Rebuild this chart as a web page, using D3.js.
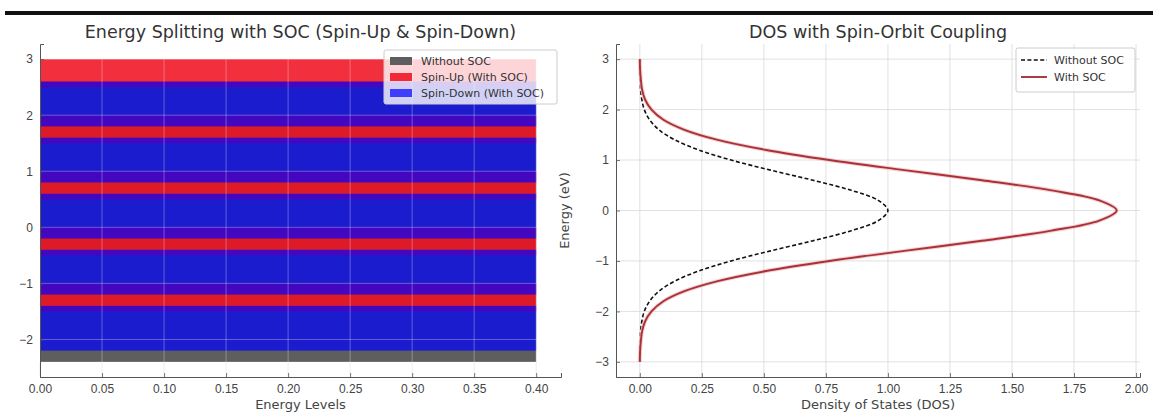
<!DOCTYPE html>
<html>
<head>
<meta charset="utf-8">
<script src="https://cdn.jsdelivr.net/npm/d3@7"></script>
<style>
  html, body { margin: 0; padding: 0; background: #fff; }
  svg { display: block; font-family: "DejaVu Sans", sans-serif; }
</style>
</head>
<body>
<svg id="fig" width="1153" height="412"></svg>
<script>
// ---- Energy splitting (left panel) ----
const levelsNoSOC = [-1.9, -0.9, 0.1, 1.1, 2.1];    // bar centres, eV
const levelsSpinUp = [-1.25, -0.25, 0.75, 1.75, 2.75];
const levelsSpinDown = [-1.8, -0.8, 0.2, 1.2, 2.2];
const heightNoSOC = 1.0, heightSpinUp = 0.5, heightSpinDown = 0.8;
const barLength = 0.4;
const splitXTicks = [0, 0.05, 0.10, 0.15, 0.20, 0.25, 0.30, 0.35, 0.40];
const splitYTicks = [-2, -1, 0, 1, 2, 3];

// ---- Density of states (right panel) ----
const energies = [-3.0, -2.8, -2.6, -2.4, -2.2, -2.0, -1.8, -1.6, -1.4, -1.2, -1.0,
                  -0.8, -0.6, -0.4, -0.2, 0.0, 0.2, 0.4, 0.6, 0.8, 1.0,
                  1.2, 1.4, 1.6, 1.8, 2.0, 2.2, 2.4, 2.6, 2.8, 3.0];
const dosNoSOC = [0.000, 0.000, 0.001, 0.003, 0.008, 0.018, 0.039, 0.077, 0.141, 0.237, 0.368,
                  0.527, 0.698, 0.852, 0.961, 1.000, 0.961, 0.852, 0.698, 0.527, 0.368,
                  0.237, 0.141, 0.077, 0.039, 0.018, 0.008, 0.003, 0.001, 0.000, 0.000];
const dosSOC = [0.000, 0.001, 0.004, 0.009, 0.021, 0.047, 0.095, 0.180, 0.314, 0.509, 0.764,
                1.066, 1.379, 1.659, 1.852, 1.922, 1.852, 1.659, 1.379, 1.066, 0.764,
                0.509, 0.314, 0.180, 0.095, 0.047, 0.021, 0.009, 0.004, 0.001, 0.000];
const dosXTicks = [0, 0.25, 0.5, 0.75, 1.0, 1.25, 1.5, 1.75, 2.0];
const dosYTicks = [-3, -2, -1, 0, 1, 2, 3];

const svg = d3.select("#fig");
const TICK_COLOR = "#555", LABEL_COLOR = "#444", GRID_COLOR = "#d9d9d9";
const TICK_FONT = 12, LABEL_FONT = 13, TITLE_FONT = 17.5, LEGEND_FONT = 11;

// frame rule across the top
svg.append("rect").attr("x", 5).attr("y", 11).attr("width", 1148).attr("height", 4).attr("fill", "#111");

function styleAxis(g) {
  g.select(".domain").attr("stroke", TICK_COLOR).attr("stroke-width", 1);
  g.selectAll(".tick line").attr("stroke", TICK_COLOR).attr("stroke-width", 0.8);
  g.selectAll(".tick text").attr("fill", LABEL_COLOR).attr("font-size", TICK_FONT);
}

// ================= left panel =================
const L = { x0: 40, x1: 561, y0: 44, y1: 377 };
const lx = d3.scaleLinear().domain([0, 0.42]).range([L.x0, L.x1]);
const ly = d3.scaleLinear().domain([-2.67, 3.27]).range([L.y1, L.y0]);
const left = svg.append("g");

function drawBars(centres, h, fill, opacity) {
  left.append("g").selectAll("rect").data(centres).join("rect")
    .attr("x", lx(0))
    .attr("width", lx(barLength) - lx(0))
    .attr("y", d => ly(d + h / 2))
    .attr("height", d => ly(d - h / 2) - ly(d + h / 2))
    .attr("fill", fill).attr("fill-opacity", opacity);
}
const colNoSOC = "#5e5e5e", colUp = "#f01020", colDown = "#0000ff";
const opNoSOC = 1.0, opUp = 0.87, opDown = 0.7;
drawBars(levelsNoSOC, heightNoSOC, colNoSOC, opNoSOC);
drawBars(levelsSpinUp, heightSpinUp, colUp, opUp);
drawBars(levelsSpinDown, heightSpinDown, colDown, opDown);

// grid lines sit above the bars
const lgrid = left.append("g").attr("stroke", "#ffffff").attr("stroke-opacity", 0.3).attr("stroke-width", 1);
lgrid.selectAll(".v").data(splitXTicks).join("line")
  .attr("x1", d => lx(d)).attr("x2", d => lx(d)).attr("y1", L.y0).attr("y2", L.y1);
lgrid.selectAll(".h").data(splitYTicks).join("line")
  .attr("x1", L.x0).attr("x2", L.x1).attr("y1", d => ly(d)).attr("y2", d => ly(d));
const lgrid2 = left.append("g").attr("stroke", GRID_COLOR).attr("stroke-width", 0.8).attr("stroke-opacity", 0.6);
lgrid2.selectAll("line").data(splitXTicks).join("line")
  .attr("x1", d => lx(d)).attr("x2", d => lx(d)).attr("y1", ly(-2.4)).attr("y2", L.y1);

left.append("g").attr("transform", `translate(0,${L.y1})`)
  .call(d3.axisBottom(lx).tickValues(splitXTicks).tickFormat(d3.format(".2f")).tickSize(-4).tickPadding(7))
  .call(styleAxis);
left.append("g").attr("transform", `translate(${L.x0},0)`)
  .call(d3.axisLeft(ly).tickValues(splitYTicks).tickFormat(d3.format("d")).tickSize(-4).tickPadding(7))
  .call(styleAxis);

left.append("text").attr("x", (L.x0 + L.x1) / 2).attr("y", 38).attr("text-anchor", "middle")
  .attr("font-size", TITLE_FONT).attr("fill", "#333")
  .text("Energy Splitting with SOC (Spin-Up & Spin-Down)");
left.append("text").attr("x", (L.x0 + L.x1) / 2).attr("y", 409).attr("text-anchor", "middle")
  .attr("font-size", LABEL_FONT).attr("fill", LABEL_COLOR).text("Energy Levels");

// legend
const lleg = left.append("g").attr("transform", "translate(384,50)");
lleg.append("rect").attr("width", 173).attr("height", 54).attr("rx", 2)
  .attr("fill", "#fff").attr("fill-opacity", 0.8).attr("stroke", "#cccccc");
const legItems = [
  { label: "Without SOC", fill: colNoSOC, op: opNoSOC },
  { label: "Spin-Up (With SOC)", fill: colUp, op: opUp },
  { label: "Spin-Down (With SOC)", fill: colDown, op: opDown }
];
legItems.forEach((d, i) => {
  const y = 11 + i * 16;
  lleg.append("rect").attr("x", 6).attr("y", y - 4).attr("width", 22).attr("height", 8)
    .attr("fill", d.fill).attr("fill-opacity", d.op);
  lleg.append("text").attr("x", 37).attr("y", y + 4).attr("font-size", LEGEND_FONT).attr("fill", "#333").text(d.label);
});

// ================= right panel =================
const R = { x0: 616, x1: 1140, y0: 44, y1: 377 };
const rx = d3.scaleLinear().domain([-0.096, 2.016]).range([R.x0, R.x1]);
const ry = d3.scaleLinear().domain([-3.3, 3.3]).range([R.y1, R.y0]);
const right = svg.append("g");

const rgrid = right.append("g").attr("stroke", GRID_COLOR).attr("stroke-width", 0.8);
rgrid.selectAll(".v").data(dosXTicks).join("line")
  .attr("x1", d => rx(d)).attr("x2", d => rx(d)).attr("y1", R.y0).attr("y2", R.y1);
rgrid.selectAll(".h").data(dosYTicks).join("line")
  .attr("x1", R.x0).attr("x2", R.x1).attr("y1", d => ry(d)).attr("y2", d => ry(d));

const pts = (vals) => energies.map((e, i) => [vals[i], e]);
const line = d3.line().x(d => rx(d[0])).y(d => ry(d[1])).curve(d3.curveCatmullRom.alpha(0.5));

right.append("path").attr("d", line(pts(dosNoSOC))).attr("fill", "none")
  .attr("stroke", "#111").attr("stroke-width", 1.6).attr("stroke-dasharray", "4,2.4");
right.append("path").attr("d", line(pts(dosSOC))).attr("fill", "none")
  .attr("stroke", "#f4c4c4").attr("stroke-width", 4).attr("stroke-opacity", 0.8);
right.append("path").attr("d", line(pts(dosSOC))).attr("fill", "none")
  .attr("stroke", "#a8323a").attr("stroke-width", 1.9);

right.append("g").attr("transform", `translate(0,${R.y1})`)
  .call(d3.axisBottom(rx).tickValues(dosXTicks).tickFormat(d3.format(".2f")).tickSize(-4).tickPadding(7))
  .call(styleAxis);
right.append("g").attr("transform", `translate(${R.x0},0)`)
  .call(d3.axisLeft(ry).tickValues(dosYTicks).tickFormat(d3.format("d")).tickSize(-4).tickPadding(7))
  .call(styleAxis);

right.append("text").attr("x", (R.x0 + R.x1) / 2).attr("y", 38).attr("text-anchor", "middle")
  .attr("font-size", TITLE_FONT).attr("fill", "#333").text("DOS with Spin-Orbit Coupling");
right.append("text").attr("x", (R.x0 + R.x1) / 2).attr("y", 409).attr("text-anchor", "middle")
  .attr("font-size", LABEL_FONT).attr("fill", LABEL_COLOR).text("Density of States (DOS)");
right.append("text").attr("transform", `translate(569,${(R.y0 + R.y1) / 2}) rotate(-90)`)
  .attr("text-anchor", "middle").attr("font-size", LABEL_FONT).attr("fill", LABEL_COLOR).text("Energy (eV)");

const rleg = right.append("g").attr("transform", "translate(1016,48)");
rleg.append("rect").attr("width", 119).attr("height", 44).attr("rx", 2)
  .attr("fill", "#fff").attr("fill-opacity", 0.8).attr("stroke", "#cccccc");
rleg.append("line").attr("x1", 5).attr("x2", 31).attr("y1", 12).attr("y2", 12)
  .attr("stroke", "#111").attr("stroke-width", 1.6).attr("stroke-dasharray", "4,2.4");
rleg.append("text").attr("x", 38).attr("y", 16).attr("font-size", LEGEND_FONT).attr("fill", "#333").text("Without SOC");
rleg.append("line").attr("x1", 5).attr("x2", 31).attr("y1", 29).attr("y2", 29)
  .attr("stroke", "#a8323a").attr("stroke-width", 1.9);
rleg.append("text").attr("x", 38).attr("y", 33).attr("font-size", LEGEND_FONT).attr("fill", "#333").text("With SOC");
</script>
</body>
</html>
